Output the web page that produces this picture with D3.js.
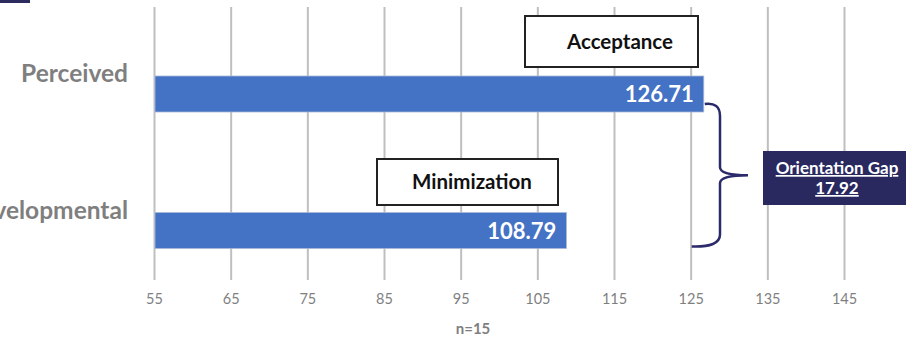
<!doctype html>
<html>
  <head>
    <meta charset="utf8">
    <script src="https://d3js.org/d3.v7.min.js"></script>
    <style type="text/css">
      body { margin: 0; background: #fff; font-family: 'Lato', sans-serif; }
    </style>
  </head>
  <body>
    <script type="text/javascript">
      const w = 906;
      const h = 337;

      const categories = ['Perceived', 'Developmental'];
      const values = [126.71, 108.79];
      const stageLabels = ['Acceptance', 'Minimization'];
      const tickValues = [55, 65, 75, 85, 95, 105, 115, 125, 135, 145];
      const gapLabel = 'Orientation Gap';
      const gapValue = 17.92;
      const sampleNote = 'n=15';

      const xScale = d3.scaleLinear()
        .domain([55, 145])
        .range([154, 844]);

      const yScale = d3.scalePoint()
        .domain(categories)
        .range([94, 230.5]);

      const barH = 36;

      const svg = d3.select('body')
        .append('svg')
        .attr('width', w)
        .attr('height', h);

      // little dark strip in the corner
      svg.append('rect')
        .attr('x', 0).attr('y', 0)
        .attr('width', 30).attr('height', 3)
        .attr('fill', '#2d2b5e');

      // gridlines + tick labels
      const xAxis = d3.axisBottom(xScale)
        .tickValues(tickValues)
        .tickSize(-273)
        .tickPadding(14)
        .tickFormat(d3.format('d'));

      const gx = svg.append('g')
        .attr('transform', 'translate(0,280)')
        .call(xAxis);
      gx.select('.domain').remove();
      gx.selectAll('.tick line')
        .attr('stroke', '#bfbfbf')
        .attr('stroke-width', 2);
      gx.selectAll('.tick text')
        .attr('fill', '#7f7f7f')
        .attr('font-family', 'Lato, sans-serif')
        .attr('font-size', '14.5px');

      svg.append('text')
        .attr('x', 473).attr('y', 334)
        .attr('text-anchor', 'middle')
        .attr('font-size', '15px')
        .attr('font-weight', 'bold')
        .attr('fill', '#7f7f7f')
        .text(sampleNote);

      // category labels (the long one runs off the left edge, as in the original)
      svg.selectAll('text.cat')
        .data(categories)
        .enter()
        .append('text')
        .attr('class', 'cat')
        .attr('x', 128)
        .attr('y', (d) => yScale(d) - 12)
        .attr('text-anchor', 'end')
        .attr('font-family', 'Lato, sans-serif')
        .attr('font-size', '24.5px')
        .attr('font-weight', 'bold')
        .attr('fill', '#7f7f7f')
        .text((d) => d);

      // bars
      svg.selectAll('rect.bar')
        .data(values)
        .enter()
        .append('rect')
        .attr('class', 'bar')
        .attr('x', xScale(55) + 1)
        .attr('y', (d, i) => yScale(categories[i]) - barH / 2)
        .attr('width', (d) => xScale(d) - xScale(55) - 1)
        .attr('height', barH)
        .attr('fill', '#4472c4')
        .attr('stroke', '#a9b8d6')
        .attr('stroke-width', 0.8);

      svg.selectAll('text.val')
        .data(values)
        .enter()
        .append('text')
        .attr('class', 'val')
        .attr('x', (d) => xScale(d) - 10)
        .attr('y', (d, i) => yScale(categories[i]) + 8)
        .attr('text-anchor', 'end')
        .attr('font-size', '22px')
        .attr('font-weight', 'bold')
        .attr('fill', '#fff')
        .text((d) => d.toFixed(2));

      // stage boxes above the bars
      const boxes = [
        { x0: 525, x1: 698, y0: 16, y1: 67, tx: 620 },
        { x0: 377, x1: 558, y0: 159, y1: 205, tx: 472 }
      ];
      boxes.forEach((b, i) => {
        svg.append('rect')
          .attr('x', b.x0).attr('y', b.y0)
          .attr('width', b.x1 - b.x0).attr('height', b.y1 - b.y0)
          .attr('fill', '#fff')
          .attr('stroke', '#222')
          .attr('stroke-width', 2);
        svg.append('text')
          .attr('x', b.tx).attr('y', (b.y0 + b.y1) / 2 + 7)
          .attr('text-anchor', 'middle')
          .attr('font-size', '20.5px')
          .attr('font-weight', 'bold')
          .attr('fill', '#111')
          .text(stageLabels[i]);
      });

      // curly brace between the bar ends
      const bTop = yScale(categories[0]) + 10;
      const bBot = yScale(categories[1]) + 16;
      const bMid = (bTop + bBot) / 2;
      const bx = 720;
      const brace = d3.path();
      brace.moveTo(xScale(values[0]) + 1, bTop);
      brace.quadraticCurveTo(bx, bTop - 2, bx, bTop + 12);
      brace.lineTo(bx, bMid - 8);
      brace.quadraticCurveTo(bx, bMid, 748, bMid);
      brace.moveTo(748, bMid);
      brace.quadraticCurveTo(bx, bMid, bx, bMid + 8);
      brace.lineTo(bx, bBot - 12);
      brace.quadraticCurveTo(bx, bBot + 1, xScale(125) + 1, bBot);
      svg.append('path')
        .attr('d', brace.toString())
        .attr('fill', 'none')
        .attr('stroke', '#2b2a6b')
        .attr('stroke-width', 2.5);

      // orientation gap box
      svg.append('rect')
        .attr('x', 763).attr('y', 151)
        .attr('width', 143).attr('height', 54)
        .attr('fill', '#29285f');
      svg.append('text')
        .attr('x', 837).attr('y', 174)
        .attr('text-anchor', 'middle')
        .attr('font-size', '17px')
        .attr('font-weight', 'bold')
        .attr('text-decoration', 'underline')
        .attr('fill', '#fff')
        .text(gapLabel);
      svg.append('text')
        .attr('x', 837).attr('y', 194)
        .attr('text-anchor', 'middle')
        .attr('font-size', '17px')
        .attr('font-weight', 'bold')
        .attr('text-decoration', 'underline')
        .attr('fill', '#fff')
        .text(gapValue.toFixed(2));
    </script>
  </body>
</html>
